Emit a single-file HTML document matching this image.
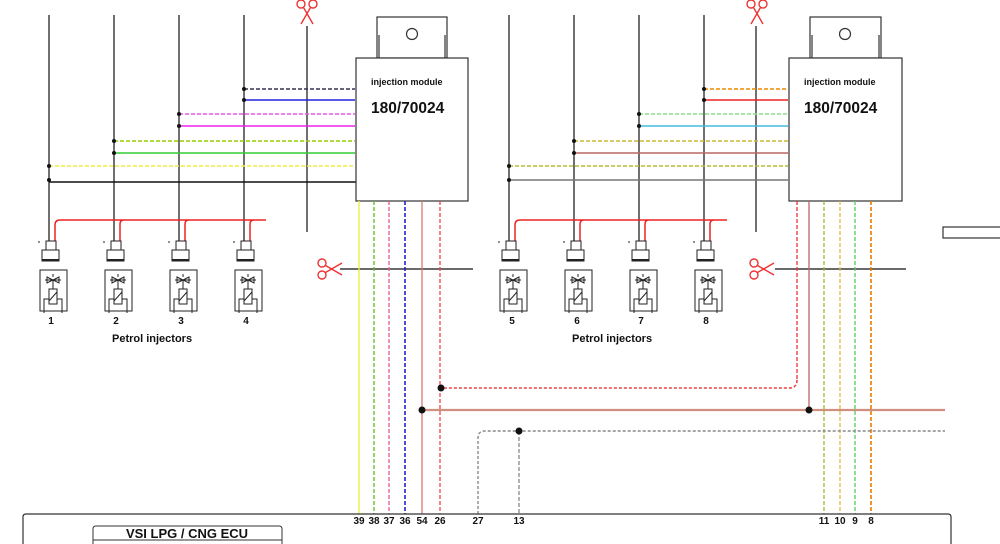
<!DOCTYPE html>
<html><head><meta charset="utf-8"><style>
html,body{margin:0;padding:0;background:#fff;width:1000px;height:544px;overflow:hidden}
svg{display:block}
text{font-family:"Liberation Sans",Arial,sans-serif;font-weight:bold;fill:#111}
</style></head><body>
<svg width="1000" height="544" viewBox="0 0 1000 544" xmlns="http://www.w3.org/2000/svg">
<defs>
<g id="inj" fill="none" stroke="#222" stroke-width="1">
  <rect x="-4" y="0" width="10" height="9"/>
  <rect x="-8" y="9" width="17" height="11" fill="#fff"/>
  <line x1="-8" y1="19" x2="9" y2="19" stroke-width="2"/>
  <line x1="-12" y1="1" x2="-10" y2="1"/>
  <rect x="-10" y="29" width="27" height="41"/>
  <path d="M-3 36 L3 39 L-3 42 Z M9 36 L3 39 L9 42 Z M-5 39 H11 M3 33 V36 M3 39 V48"/>
  <rect x="-1" y="48" width="8" height="15"/>
  <line x1="-1" y1="60" x2="7" y2="51"/>
  <path d="M-1 58 H-6 V72 M7 58 H12 V72"/>
</g>
<g id="sc" fill="none" stroke="#e33" stroke-width="1.4">
  <circle cx="-6" cy="-8" r="4"/><circle cx="6" cy="-8" r="4"/>
  <path d="M-3.5 -4.5 L6 12 M3.5 -4.5 L-6 12"/>
</g>
</defs>

<!-- LEFT GROUP -->
<g stroke="#111" stroke-width="1.2" fill="none">
  <line x1="49" y1="15" x2="49" y2="241"/>
  <line x1="114" y1="15" x2="114" y2="241"/>
  <line x1="179" y1="15" x2="179" y2="241"/>
  <line x1="244" y1="15" x2="244" y2="241"/>
  <line x1="307" y1="26" x2="307" y2="232"/>
  <line x1="340" y1="269" x2="473" y2="269"/>
</g>
<g stroke-width="1.5" fill="none">
  <line x1="244" y1="89" x2="355" y2="89" stroke="#335" stroke-dasharray="4,2"/>
  <line x1="244" y1="100" x2="355" y2="100" stroke="#22d"/>
  <line x1="179" y1="114" x2="355" y2="114" stroke="#e5e" stroke-dasharray="4,2"/>
  <line x1="179" y1="126" x2="355" y2="126" stroke="#e2e"/>
  <line x1="114" y1="141" x2="355" y2="141" stroke="#9c0" stroke-dasharray="4,2"/>
  <line x1="114" y1="153" x2="355" y2="153" stroke="#3c3"/>
  <line x1="49" y1="166" x2="355" y2="166" stroke="#ee4" stroke-dasharray="4,2"/>
  <line x1="49" y1="182" x2="357" y2="182" stroke="#111"/>
</g>
<g fill="#111">
  <circle cx="244" cy="89" r="2"/><circle cx="244" cy="100" r="2"/>
  <circle cx="179" cy="114" r="2"/><circle cx="179" cy="126" r="2"/>
  <circle cx="114" cy="141" r="2"/><circle cx="114" cy="153" r="2"/>
  <circle cx="49" cy="166" r="2"/><circle cx="49" cy="180" r="2"/>
</g>
<path d="M55 241 V225 Q55 220 60 220 H266 M120 241 V224 Q120 220 124 220 M185 241 V224 Q185 220 189 220 M250 241 V224 Q250 220 254 220" stroke="#e22" stroke-width="1.5" fill="none"/>
<use href="#inj" x="50" y="241"/><use href="#inj" x="115" y="241"/>
<use href="#inj" x="180" y="241"/><use href="#inj" x="245" y="241"/>
<g font-size="10" text-anchor="middle"><text x="51" y="324">1</text><text x="116" y="324">2</text><text x="181" y="324">3</text><text x="246" y="324">4</text></g>
<text x="112" y="342" font-size="11">Petrol injectors</text>
<use href="#sc" x="307" y="12"/>
<use href="#sc" x="330" y="269" transform="rotate(-90 330 269)"/>

<!-- LEFT MODULE -->
<g fill="#fff" stroke="#333" stroke-width="1.2">
  <rect x="377" y="17" width="70" height="41"/>
  <line x1="379" y1="35" x2="379" y2="58"/><line x1="445" y1="35" x2="445" y2="58"/>
  <circle cx="412" cy="34" r="5.5"/>
  <rect x="356" y="58" width="112" height="143"/>
</g>
<text x="371" y="85" font-size="9">injection module</text>
<text x="371" y="113" font-size="15.5">180/70024</text>

<!-- RIGHT GROUP -->
<g stroke="#111" stroke-width="1.2" fill="none">
  <line x1="509" y1="15" x2="509" y2="241"/>
  <line x1="574" y1="15" x2="574" y2="241"/>
  <line x1="639" y1="15" x2="639" y2="241"/>
  <line x1="704" y1="15" x2="704" y2="241"/>
  <line x1="756" y1="26" x2="756" y2="232"/>
  <line x1="775" y1="269" x2="906" y2="269"/>
</g>
<g stroke-width="1.5" fill="none">
  <line x1="704" y1="89" x2="788" y2="89" stroke="#e80" stroke-dasharray="4,2"/>
  <line x1="704" y1="100" x2="788" y2="100" stroke="#e22"/>
  <line x1="639" y1="114" x2="788" y2="114" stroke="#8d8" stroke-dasharray="4,2"/>
  <line x1="639" y1="126" x2="788" y2="126" stroke="#4bd"/>
  <line x1="574" y1="141" x2="788" y2="141" stroke="#cb3" stroke-dasharray="4,2"/>
  <line x1="574" y1="153" x2="788" y2="153" stroke="#b66"/>
  <line x1="509" y1="166" x2="788" y2="166" stroke="#bb3" stroke-dasharray="4,2"/>
  <line x1="509" y1="180" x2="788" y2="180" stroke="#777"/>
</g>
<g fill="#111">
  <circle cx="704" cy="89" r="2"/><circle cx="704" cy="100" r="2"/>
  <circle cx="639" cy="114" r="2"/><circle cx="639" cy="126" r="2"/>
  <circle cx="574" cy="141" r="2"/><circle cx="574" cy="153" r="2"/>
  <circle cx="509" cy="166" r="2"/><circle cx="509" cy="180" r="2"/>
</g>
<path d="M515 241 V225 Q515 220 520 220 H727 M580 241 V224 Q580 220 584 220 M645 241 V224 Q645 220 649 220 M710 241 V224 Q710 220 714 220" stroke="#e22" stroke-width="1.5" fill="none"/>
<use href="#inj" x="510" y="241"/><use href="#inj" x="575" y="241"/>
<use href="#inj" x="640" y="241"/><use href="#inj" x="705" y="241"/>
<g font-size="10" text-anchor="middle"><text x="512" y="324">5</text><text x="577" y="324">6</text><text x="641" y="324">7</text><text x="706" y="324">8</text></g>
<text x="572" y="342" font-size="11">Petrol injectors</text>
<use href="#sc" x="757" y="12"/>
<use href="#sc" x="762" y="269" transform="rotate(-90 762 269)"/>

<!-- RIGHT MODULE -->
<g fill="#fff" stroke="#333" stroke-width="1.2">
  <rect x="810" y="17" width="71" height="41"/>
  <line x1="812" y1="35" x2="812" y2="58"/><line x1="879" y1="35" x2="879" y2="58"/>
  <circle cx="845" cy="34" r="5.5"/>
  <rect x="789" y="58" width="113" height="143"/>
</g>
<text x="804" y="85" font-size="9">injection module</text>
<text x="804" y="113" font-size="15.5">180/70024</text>

<rect x="943" y="227" width="60" height="11" fill="#fff" stroke="#333" stroke-width="1.2"/>

<!-- BOTTOM WIRES -->
<g stroke-width="1.3" fill="none">
  <line x1="359" y1="201" x2="359" y2="514" stroke="#ee3"/>
  <line x1="374" y1="201" x2="374" y2="514" stroke="#6b1" stroke-dasharray="4,2"/>
  <line x1="389" y1="201" x2="389" y2="514" stroke="#e58" stroke-dasharray="4,2"/>
  <line x1="405" y1="201" x2="405" y2="514" stroke="#22c" stroke-width="1.6" stroke-dasharray="4,2"/>
  <line x1="422" y1="201" x2="422" y2="514" stroke="#d77"/>
  <line x1="440" y1="201" x2="440" y2="514" stroke="#e44" stroke-dasharray="4,2"/>
  <line x1="797" y1="201" x2="797" y2="380" stroke="#e33" stroke-dasharray="4,2"/>
  <path d="M797 380 Q797 388 789 388 H441" stroke="#e44" stroke-width="1.6" stroke-dasharray="3,2"/>
  <line x1="809" y1="201" x2="809" y2="410" stroke="#b66"/>
  <line x1="422" y1="410" x2="945" y2="410" stroke="#d09080" stroke-width="2.2"/>
  <line x1="824" y1="201" x2="824" y2="514" stroke="#9b3" stroke-dasharray="4,2"/>
  <line x1="840" y1="201" x2="840" y2="514" stroke="#db4" stroke-dasharray="4,2"/>
  <line x1="855" y1="201" x2="855" y2="514" stroke="#5c5" stroke-dasharray="4,2"/>
  <line x1="871" y1="201" x2="871" y2="514" stroke="#e70" stroke-width="1.6" stroke-dasharray="4,2"/>
  <path d="M478 514 V438 Q478 431 485 431 H945" stroke="#888" stroke-width="1.4" stroke-dasharray="3,2"/>
  <line x1="519" y1="431" x2="519" y2="514" stroke="#888" stroke-dasharray="4,2"/>
</g>
<g fill="#111">
  <circle cx="441" cy="388" r="3.5"/><circle cx="422" cy="410" r="3.5"/>
  <circle cx="809" cy="410" r="3.5"/><circle cx="519" cy="431" r="3.5"/>
</g>

<!-- ECU -->
<path d="M23 544 V517 Q23 514 26 514 H948 Q951 514 951 517 V544" fill="none" stroke="#333" stroke-width="1.2"/>
<g font-size="10" text-anchor="middle">
  <text x="359" y="524">39</text><text x="374" y="524">38</text><text x="389" y="524">37</text>
  <text x="405" y="524">36</text><text x="422" y="524">54</text><text x="440" y="524">26</text>
  <text x="478" y="524">27</text><text x="519" y="524">13</text>
  <text x="824" y="524">11</text><text x="840" y="524">10</text><text x="855" y="524">9</text><text x="871" y="524">8</text>
</g>
<path d="M93 544 V529 Q93 526 96 526 H279 Q282 526 282 529 V544" fill="#fff" stroke="#333" stroke-width="1"/>
<line x1="93" y1="540" x2="282" y2="540" stroke="#333" stroke-width="1"/>
<text x="187" y="538" font-size="13" text-anchor="middle">VSI LPG / CNG ECU</text>
</svg>
</body></html>
